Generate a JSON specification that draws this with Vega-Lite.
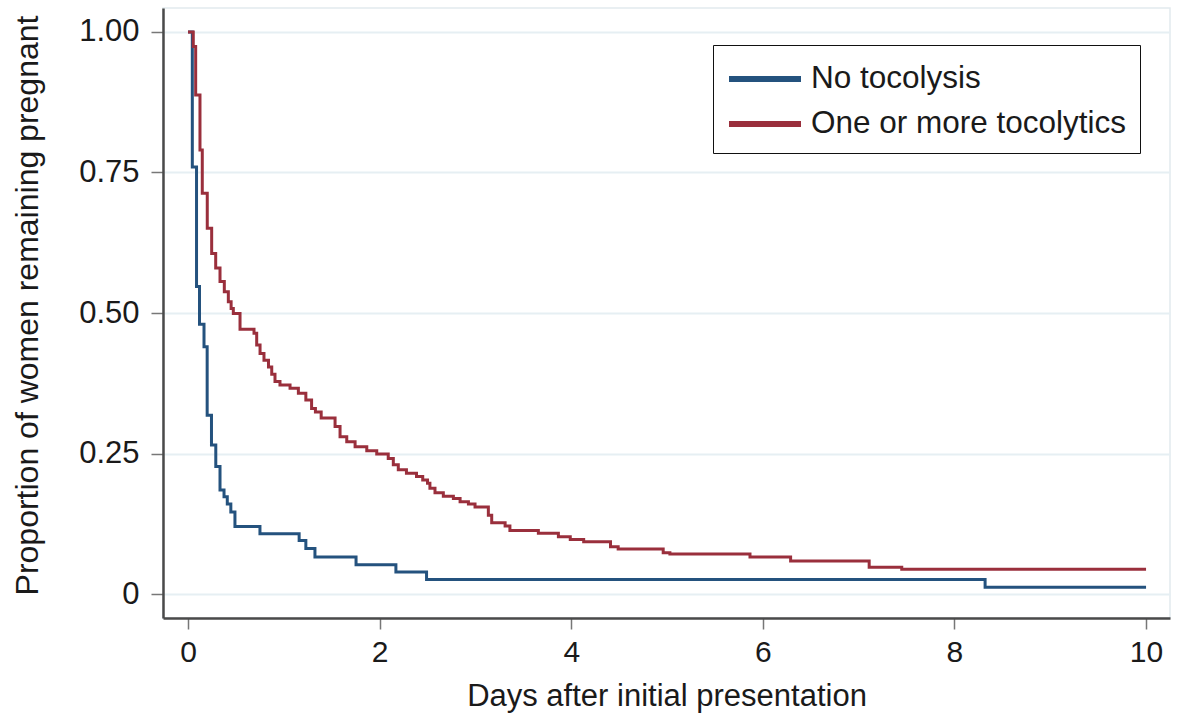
{
  "$schema": "https://vega.github.io/schema/vega-lite/v6.json",
  "width": 1007,
  "height": 610,
  "autosize": "none",
  "padding": {"left": 163, "top": 8, "right": 10, "bottom": 106},
  "background": "white",
  "config": {
    "font": "Liberation Sans",
    "view": {"stroke": "#e2eaee", "strokeWidth": 1.5}
  },
  "data": {
    "values": [
      {"group": "No tocolysis", "day": 0, "p": 1.0},
      {"group": "No tocolysis", "day": 0.045, "p": 0.76},
      {"group": "No tocolysis", "day": 0.089, "p": 0.547},
      {"group": "No tocolysis", "day": 0.12, "p": 0.48},
      {"group": "No tocolysis", "day": 0.167, "p": 0.44},
      {"group": "No tocolysis", "day": 0.2, "p": 0.318},
      {"group": "No tocolysis", "day": 0.245, "p": 0.265},
      {"group": "No tocolysis", "day": 0.29, "p": 0.227},
      {"group": "No tocolysis", "day": 0.334, "p": 0.185},
      {"group": "No tocolysis", "day": 0.376, "p": 0.173},
      {"group": "No tocolysis", "day": 0.41, "p": 0.16},
      {"group": "No tocolysis", "day": 0.447, "p": 0.146},
      {"group": "No tocolysis", "day": 0.49, "p": 0.12},
      {"group": "No tocolysis", "day": 0.751, "p": 0.107},
      {"group": "No tocolysis", "day": 1.16, "p": 0.095},
      {"group": "No tocolysis", "day": 1.23, "p": 0.081},
      {"group": "No tocolysis", "day": 1.325, "p": 0.066},
      {"group": "No tocolysis", "day": 1.754, "p": 0.052},
      {"group": "No tocolysis", "day": 2.17, "p": 0.039},
      {"group": "No tocolysis", "day": 2.49, "p": 0.026},
      {"group": "No tocolysis", "day": 8.32, "p": 0.012},
      {"group": "No tocolysis", "day": 10.0, "p": 0.012},
      {"group": "One or more tocolytics", "day": 0, "p": 1.0},
      {"group": "One or more tocolytics", "day": 0.055, "p": 0.974},
      {"group": "One or more tocolytics", "day": 0.08, "p": 0.888},
      {"group": "One or more tocolytics", "day": 0.125, "p": 0.79},
      {"group": "One or more tocolytics", "day": 0.149, "p": 0.713},
      {"group": "One or more tocolytics", "day": 0.201, "p": 0.651},
      {"group": "One or more tocolytics", "day": 0.247, "p": 0.606},
      {"group": "One or more tocolytics", "day": 0.289, "p": 0.58},
      {"group": "One or more tocolytics", "day": 0.334, "p": 0.556},
      {"group": "One or more tocolytics", "day": 0.379, "p": 0.538},
      {"group": "One or more tocolytics", "day": 0.421, "p": 0.52},
      {"group": "One or more tocolytics", "day": 0.45, "p": 0.508},
      {"group": "One or more tocolytics", "day": 0.473, "p": 0.499},
      {"group": "One or more tocolytics", "day": 0.543, "p": 0.471},
      {"group": "One or more tocolytics", "day": 0.689, "p": 0.464},
      {"group": "One or more tocolytics", "day": 0.717, "p": 0.443},
      {"group": "One or more tocolytics", "day": 0.752, "p": 0.428},
      {"group": "One or more tocolytics", "day": 0.793, "p": 0.416},
      {"group": "One or more tocolytics", "day": 0.84, "p": 0.404},
      {"group": "One or more tocolytics", "day": 0.874, "p": 0.391},
      {"group": "One or more tocolytics", "day": 0.908, "p": 0.378},
      {"group": "One or more tocolytics", "day": 0.96, "p": 0.372},
      {"group": "One or more tocolytics", "day": 1.065, "p": 0.366},
      {"group": "One or more tocolytics", "day": 1.152, "p": 0.357},
      {"group": "One or more tocolytics", "day": 1.23, "p": 0.345},
      {"group": "One or more tocolytics", "day": 1.29, "p": 0.33},
      {"group": "One or more tocolytics", "day": 1.33, "p": 0.324},
      {"group": "One or more tocolytics", "day": 1.39, "p": 0.313},
      {"group": "One or more tocolytics", "day": 1.535, "p": 0.298},
      {"group": "One or more tocolytics", "day": 1.587, "p": 0.28},
      {"group": "One or more tocolytics", "day": 1.657, "p": 0.271},
      {"group": "One or more tocolytics", "day": 1.744, "p": 0.262},
      {"group": "One or more tocolytics", "day": 1.866, "p": 0.255},
      {"group": "One or more tocolytics", "day": 1.97, "p": 0.249},
      {"group": "One or more tocolytics", "day": 2.09, "p": 0.241},
      {"group": "One or more tocolytics", "day": 2.143, "p": 0.23},
      {"group": "One or more tocolytics", "day": 2.195, "p": 0.221},
      {"group": "One or more tocolytics", "day": 2.28, "p": 0.215},
      {"group": "One or more tocolytics", "day": 2.385, "p": 0.209},
      {"group": "One or more tocolytics", "day": 2.45, "p": 0.203},
      {"group": "One or more tocolytics", "day": 2.5, "p": 0.197},
      {"group": "One or more tocolytics", "day": 2.525, "p": 0.188},
      {"group": "One or more tocolytics", "day": 2.578, "p": 0.18},
      {"group": "One or more tocolytics", "day": 2.665, "p": 0.174},
      {"group": "One or more tocolytics", "day": 2.77, "p": 0.17},
      {"group": "One or more tocolytics", "day": 2.84, "p": 0.164},
      {"group": "One or more tocolytics", "day": 2.927, "p": 0.16},
      {"group": "One or more tocolytics", "day": 2.996, "p": 0.155},
      {"group": "One or more tocolytics", "day": 3.135, "p": 0.14},
      {"group": "One or more tocolytics", "day": 3.17, "p": 0.127},
      {"group": "One or more tocolytics", "day": 3.31, "p": 0.121},
      {"group": "One or more tocolytics", "day": 3.36, "p": 0.113},
      {"group": "One or more tocolytics", "day": 3.657, "p": 0.108},
      {"group": "One or more tocolytics", "day": 3.866, "p": 0.102},
      {"group": "One or more tocolytics", "day": 3.99, "p": 0.097},
      {"group": "One or more tocolytics", "day": 4.13, "p": 0.093},
      {"group": "One or more tocolytics", "day": 4.41, "p": 0.084},
      {"group": "One or more tocolytics", "day": 4.49, "p": 0.08},
      {"group": "One or more tocolytics", "day": 4.96, "p": 0.0735},
      {"group": "One or more tocolytics", "day": 5.03, "p": 0.071},
      {"group": "One or more tocolytics", "day": 5.866, "p": 0.066},
      {"group": "One or more tocolytics", "day": 6.29, "p": 0.0587},
      {"group": "One or more tocolytics", "day": 7.11, "p": 0.0475},
      {"group": "One or more tocolytics", "day": 7.45, "p": 0.044},
      {"group": "One or more tocolytics", "day": 10.0, "p": 0.044}
    ]
  },
  "mark": {"type": "line", "interpolate": "step-after", "strokeWidth": 3, "clip": true},
  "encoding": {
    "x": {
      "field": "day",
      "type": "quantitative",
      "scale": {"domain": [-0.261, 10.25], "nice": false, "zero": false},
      "axis": {
        "title": "Days after initial presentation",
        "values": [0, 2, 4, 6, 8, 10],
        "grid": false,
        "domainColor": "#4a4a4a",
        "domainWidth": 2.5,
        "tickColor": "#777777",
        "tickWidth": 1.5,
        "tickSize": 11,
        "labelFontSize": 30,
        "labelColor": "#1a1a1a",
        "labelPadding": 8,
        "titleFontSize": 31,
        "titleFontWeight": "normal",
        "titleColor": "#1a1a1a",
        "titlePadding": 14
      }
    },
    "y": {
      "field": "p",
      "type": "quantitative",
      "scale": {"domain": [-0.0427, 1.0427], "nice": false, "zero": false},
      "axis": {
        "title": "Proportion of women remaining pregnant",
        "values": [0, 0.25, 0.5, 0.75, 1],
        "labelExpr": "datum.value == 0 ? '0' : format(datum.value, '.2f')",
        "grid": true,
        "gridColor": "#e6eff3",
        "gridWidth": 2,
        "domainColor": "#4a4a4a",
        "domainWidth": 2.5,
        "tickColor": "#777777",
        "tickWidth": 1.5,
        "tickSize": 12,
        "labelFontSize": 31,
        "labelColor": "#1a1a1a",
        "labelPadding": 12,
        "titleFontSize": 32,
        "titleFontWeight": "normal",
        "titleColor": "#1a1a1a",
        "titlePadding": 34,
        "titleY": 297
      }
    },
    "color": {
      "field": "group",
      "type": "nominal",
      "scale": {"domain": ["No tocolysis", "One or more tocolytics"], "range": ["#24527e", "#9a2f3c"]},
      "legend": {
        "title": null,
        "orient": "none",
        "legendX": 550,
        "legendY": 37,
        "direction": "vertical",
        "strokeColor": "#111111",
        "fillColor": "white",
        "padding": 13,
        "symbolType": "M-1,0H3",
        "symbolSize": 1296,
        "symbolStrokeWidth": 6,
        "symbolFillColor": "transparent",
        "labelFontSize": 31.5,
        "labelColor": "#1a1a1a",
        "labelOffset": 43,
        "labelLimit": 500,
        "rowPadding": 8
      }
    }
  }
}
